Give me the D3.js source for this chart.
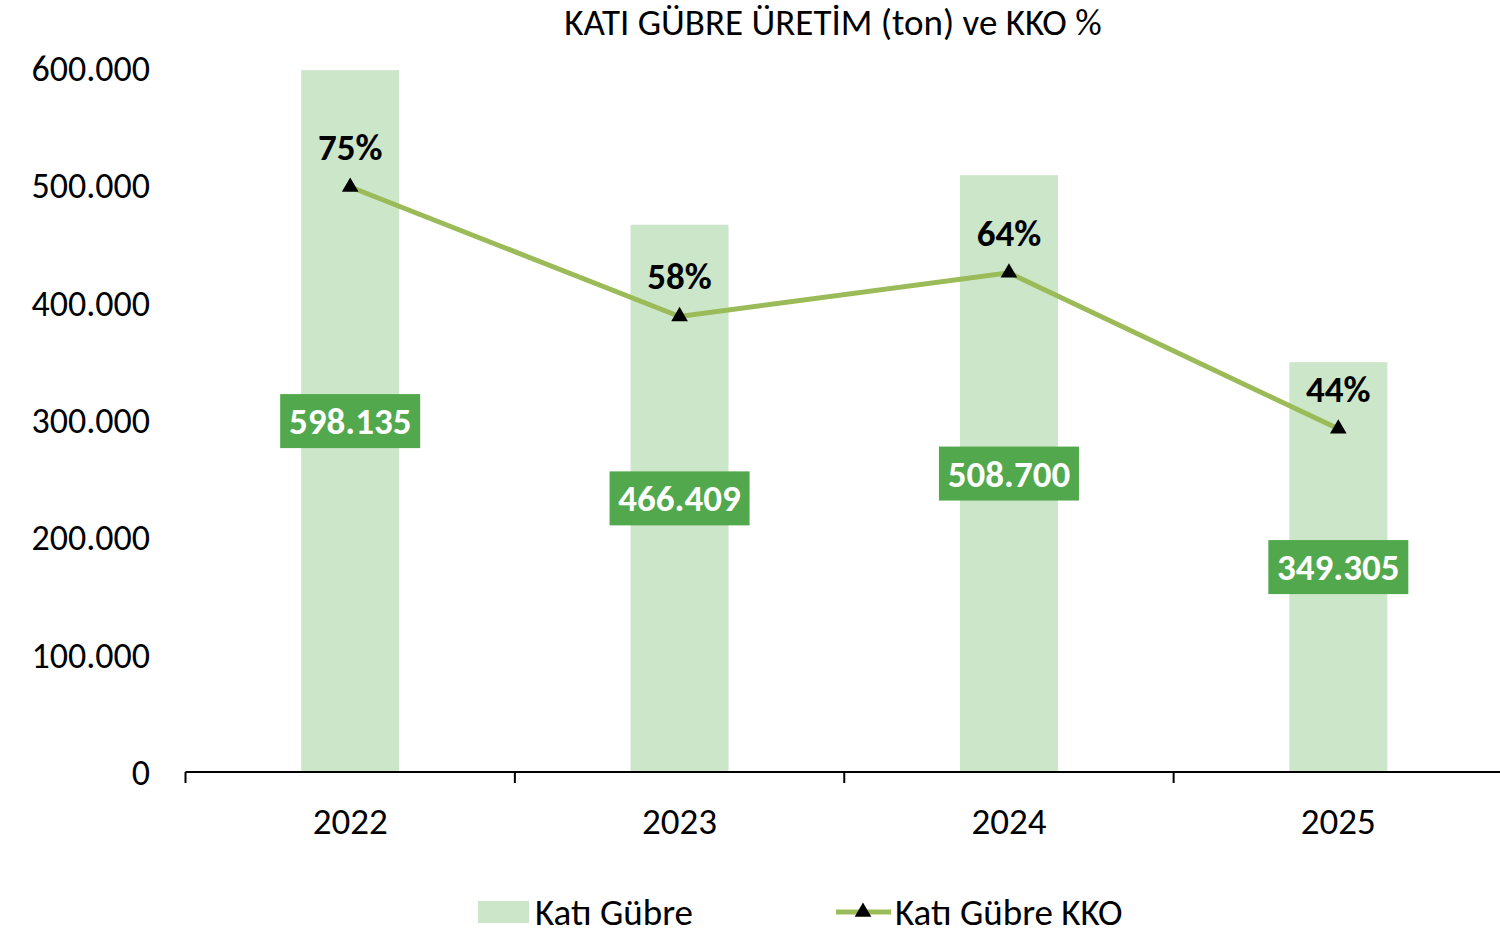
<!DOCTYPE html>
<html><head><meta charset="utf-8">
<script src="https://cdn.jsdelivr.net/npm/d3@7"></script>
<style>body{margin:0;background:#fff}svg{display:block}text{font-family:Carlito,Lato,"Open Sans",sans-serif}</style>
</head><body>
<svg id="c" width="1500" height="934"></svg>
<script>
const categories = ["2022","2023","2024","2025"];
const production = [598135, 466409, 508700, 349305];
const kko = [0.75, 0.584, 0.64, 0.44];
const yTicks = [0,100000,200000,300000,400000,500000,600000];
const title = "KATI GÜBRE ÜRETİM (ton) ve KKO %";
const legendLabels = ["Katı Gübre","Katı Gübre KKO"];

(function(){
const svg = d3.select("#c");
const L = 185.5, R = 1503, T = 68, B = 772;
const FS = 37;
const x = d3.scaleBand().domain(categories).range([L,R]).paddingInner(0).paddingOuter(0);
const y = d3.scaleLinear().domain([0,600000]).range([B,T]);
const y2 = d3.scaleLinear().domain([0,0.9]).range([B,70]);
const fmt = v => d3.format(",")(v).replace(/,/g,".");
const barW = 98;
const cxOf = c => x(c)+x.bandwidth()/2;

svg.append("text").attr("x",833).attr("y",35).attr("text-anchor","middle")
  .attr("font-size",FS).attr("fill","#000").text(title);

svg.selectAll(".yl").data(yTicks).join("text")
  .attr("x",150).attr("y",d=>y(d)+13).attr("text-anchor","end")
  .attr("font-size",FS-1).attr("fill","#000").text(d=>fmt(d));

svg.selectAll(".bar").data(categories).join("rect")
  .attr("x",d=>cxOf(d)-barW/2).attr("width",barW)
  .attr("y",(d,i)=>y(production[i])).attr("height",(d,i)=>B-y(production[i]))
  .attr("fill","#cce6c9");

const xa = svg.append("g").attr("transform",`translate(0,${B})`);
xa.append("line").attr("x1",L).attr("x2",1500).attr("stroke","#000").attr("stroke-width",2);
const bounds = categories.map(d=>x(d)).concat([R]);
xa.selectAll(".tk").data(bounds).join("line")
  .attr("x1",d=>d).attr("x2",d=>d).attr("y1",0).attr("y2",11).attr("stroke","#000").attr("stroke-width",2);
xa.selectAll(".xl").data(categories).join("text")
  .attr("x",d=>cxOf(d)).attr("y",62).attr("text-anchor","middle")
  .attr("font-size",FS).attr("fill","#000").text(d=>d);

categories.forEach((c,i)=>{
  const cx = cxOf(c);
  const cy = (y(production[i])+B)/2;
  const g = svg.append("g");
  g.append("rect").attr("x",cx-70).attr("width",140).attr("y",cy-27).attr("height",54).attr("fill","#52a84d");
  g.append("text").attr("x",cx).attr("y",cy+13).attr("text-anchor","middle")
    .attr("font-size",FS).attr("font-weight","bold").attr("fill","#fff").text(fmt(production[i]));
});

const line = d3.line().x((d,i)=>cxOf(categories[i])).y(d=>y2(d));
svg.append("path").datum(kko).attr("d",line).attr("fill","none").attr("stroke","#9bbb59").attr("stroke-width",5);
const tri = d3.symbol().type(d3.symbolTriangle).size(120);
svg.selectAll(".mk").data(kko).join("path")
  .attr("transform",(d,i)=>`translate(${cxOf(categories[i])},${y2(d)})`)
  .attr("d",tri).attr("fill","#000");
svg.selectAll(".pl").data(kko).join("text")
  .attr("x",(d,i)=>cxOf(categories[i])).attr("y",d=>y2(d)-27)
  .attr("text-anchor","middle").attr("font-size",FS).attr("font-weight","bold").attr("fill","#000")
  .text(d=>Math.round(d*100)+"%");

svg.append("rect").attr("x",478).attr("y",901).attr("width",51).attr("height",22).attr("fill","#cce6c9");
svg.append("text").attr("x",535).attr("y",925).attr("font-size",FS).attr("fill","#000").text(legendLabels[0]);
svg.append("line").attr("x1",836).attr("x2",891).attr("y1",912).attr("y2",912).attr("stroke","#9bbb59").attr("stroke-width",5);
svg.append("path").attr("transform","translate(863,912)").attr("d",tri).attr("fill","#000");
svg.append("text").attr("x",895).attr("y",925).attr("font-size",FS).attr("fill","#000").text(legendLabels[1]);
})();
</script>
</body></html>
